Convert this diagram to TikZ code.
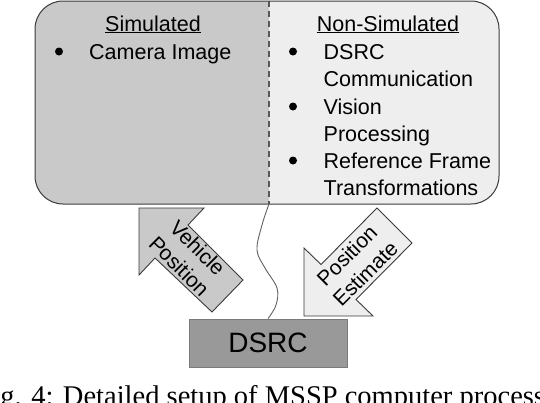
\documentclass[tikz,border=0pt]{standalone}
\usepackage{fontspec}
\setmainfont{Liberation Sans}
\newfontfamily\capfont{Liberation Serif}
\definecolor{simfill}{HTML}{C9C9C9}
\definecolor{nonsimfill}{HTML}{EEEEEE}
\definecolor{edgegray}{HTML}{3A3A3A}
\definecolor{dsrcfill}{HTML}{999999}
\definecolor{dsrcedge}{HTML}{7A7A7A}
\begin{document}
\begin{tikzpicture}[x=1pt,y=-1pt,
  lbl/.style={font=\fontsize{21.5}{26}\selectfont, inner sep=0pt},
  bul/.style={circle, fill=black, inner sep=0pt, minimum size=8pt},
  arrowshape/.style={draw=edgegray, line width=0.9pt, line join=miter},
  arrowtext/.style={font=\fontsize{21}{26}\selectfont, inner sep=0pt, align=center}]
\useasboundingbox (0,0) rectangle (540,402);
\clip (0,0) rectangle (540,402);
% main box
\begin{scope}
  \clip[rounded corners=28pt] (35,1) rectangle (499,204);
  \fill[simfill] (35,1) rectangle (269,204);
  \fill[nonsimfill] (269,1) rectangle (499,204);
\end{scope}
\draw[edgegray, line width=1pt, rounded corners=28pt] (35,1) rectangle (499,204);
\coordinate (divtop) at (269,1);
\coordinate (divbot) at (269,204);
\draw[edgegray!85, line width=1.2pt, dash pattern=on 6pt off 4pt] (divtop) -- (divbot);
% headings
\node[lbl, anchor=base] (simhead) at (153,31) {\underline{Simulated}};
\node[lbl, anchor=base] (nonsimhead) at (388,31) {\underline{Non-Simulated}};
% items
\node[bul] (b1) at (59,51.5) {};
\node[lbl, anchor=base west] (t1) at (89,59) {Camera Image};
\node[bul] (b2) at (293,51.5) {};
\node[lbl, anchor=base west] (t2a) at (323.5,59) {DSRC};
\node[lbl, anchor=base west] (t2b) at (323.5,86) {Communication};
\node[bul] (b3) at (293,106.5) {};
\node[lbl, anchor=base west] (t3a) at (323.5,114) {Vision};
\node[lbl, anchor=base west] (t3b) at (323.5,141) {Processing};
\node[bul] (b4) at (293,160.5) {};
\node[lbl, anchor=base west] (t4a) at (323.5,168) {Reference Frame};
\node[lbl, anchor=base west] (t4b) at (323.5,195) {Transformations};
% DSRC box
\node[draw=dsrcedge, fill=dsrcfill, line width=0.8pt, minimum width=158pt,
      minimum height=48pt, inner sep=0pt, font=\fontsize{28}{30}\selectfont]
      (dsrc) at (268,343) {DSRC};
% wavy link
\draw[edgegray!80, line width=0.9pt] plot[smooth, tension=0.6] coordinates
  {(divbot) (262,225) (257,250) (265,268) (277,288) (276,305) (dsrc.north)};
% Vehicle Position arrow (up-left)
\fill[simfill] (139,208) -- (204,208) -- (188,225) -- (243,280) -- (212,312)
  -- (155,258) -- (139,275) -- cycle;
\draw[arrowshape] (139,208) -- (204,208) -- (188,225) -- (243,280) -- (212,312)
  -- (155,258) -- (139,275) -- cycle;
\node[arrowtext, rotate=-45] (vehpos) at (188.5,257) {Vehicle\\Position};
% Position Estimate arrow (down-left)
\fill[nonsimfill] (304,316) -- (304,248) -- (321,264.5) -- (377,208) -- (412,243)
  -- (356,299.5) -- (373,316) -- cycle;
\draw[arrowshape] (304,316) -- (304,248) -- (321,264.5) -- (377,208) -- (412,243)
  -- (356,299.5) -- (373,316) -- cycle;
\node[arrowtext, rotate=45] (posest) at (356,264.5) {Position\\Estimate};
% caption (cut by the picture edges)
\node[anchor=base west, inner sep=0pt, font=\capfont\fontsize{28.5}{30}\selectfont]
  (caption) at (-23.5,405) {Fig. 4: Detailed setup of MSSP computer processing};
\end{tikzpicture}
\end{document}
